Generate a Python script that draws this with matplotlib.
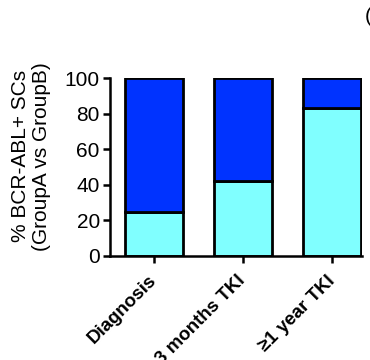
import matplotlib
matplotlib.use("Agg")
import matplotlib.pyplot as plt

plt.rcParams['font.family'] = ['Liberation Sans', 'DejaVu Sans']

categories = ["Diagnosis", "3 months TKI", "\u22651 year TKI"]
group_a = [25, 42, 83]          # lower segment (cyan)
group_b = [75, 58, 17]          # upper segment (blue)
y_ticks = [0, 20, 40, 60, 80, 100]

cyan = "#80ffff"
blue = "#0033ff"

fig = plt.figure(figsize=(3.70, 3.60), dpi=100)
ax = fig.add_axes([0.296, 0.289, 0.682, 0.494])

x = range(len(categories))
width = 0.66
ax.bar(x, group_a, width=width, color=cyan, edgecolor="black", linewidth=2, zorder=2)
ax.bar(x, group_b, width=width, bottom=group_a, color=blue, edgecolor="black", linewidth=2, zorder=2)

ax.set_xlim(-0.5, len(categories) - 1 + width / 2 + 0.005)
ax.set_ylim(0, 100)
ax.set_yticks(y_ticks)
ax.set_yticklabels([str(v) for v in y_ticks], fontsize=15)
ax.set_xticks(list(x))
ax.set_xticklabels(categories, rotation=45, ha="right", va="center",
                   rotation_mode="anchor", fontsize=13.5, fontweight="bold")

for side in ("top", "right"):
    ax.spines[side].set_visible(False)
for side in ("left", "bottom"):
    ax.spines[side].set_linewidth(1.8)
ax.tick_params(axis="both", direction="out", length=5, width=1.8, pad=2)
ax.tick_params(axis="x", pad=11)

ax.set_ylabel("% BCR-ABL+ SCs\n(GroupA vs GroupB)", fontsize=15, linespacing=1.15)
ax.yaxis.set_label_coords(-0.23, 0.56)

fig.text(0.985, 0.955, "(C)", fontsize=15, ha="left", va="center")

fig.savefig("out.png", dpi=100)
